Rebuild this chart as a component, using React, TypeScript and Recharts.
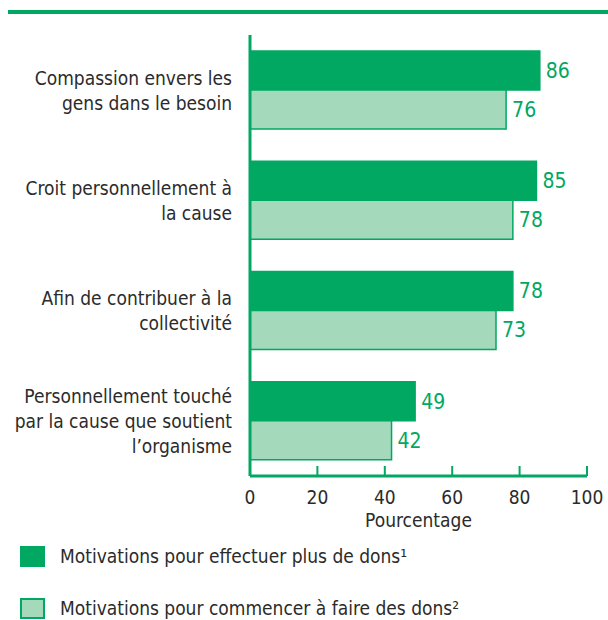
import { BarChart, Bar, XAxis, YAxis, LabelList } from 'recharts';

const categories = [
  'Compassion envers les\ngens dans le besoin',
  'Croit personnellement à\nla cause',
  'Afin de contribuer à la\ncollectivité',
  'Personnellement touché\npar la cause que soutient\nl’organisme',
];
const plusDeDons = [86, 85, 78, 49];
const commencer = [76, 78, 73, 42];
const xTicks = [0, 20, 40, 60, 80, 100];
const seriesNames = [
  'Motivations pour effectuer plus de dons¹',
  'Motivations pour commencer à faire des dons²',
];

const GREEN = '#00a862';
const LIGHT = '#a4d9bb';
const TEXT = '#2b2b2b';
const FONT = '"Liberation Sans Narrow", "DejaVu Sans Condensed", "Roboto", sans-serif';

const data = categories.map((name, i) => ({
  name,
  plus: plusDeDons[i],
  start: commencer[i],
}));

function CategoryTick({ x, y, payload }: any) {
  const lines: string[] = String(payload.value).split('\n');
  const lh = 25;
  const startY = y - ((lines.length - 1) * lh) / 2;
  return (
    <text x={x - 10} y={startY} textAnchor="end" fill={TEXT} fontSize={19} fontFamily={FONT} dominantBaseline="central">
      {lines.map((l, i) => (
        <tspan key={i} x={x - 10} y={startY + i * lh}>
          {l}
        </tspan>
      ))}
    </text>
  );
}

function ValueTick({ x, y, payload }: any) {
  return (
    <g>
      <line x1={x} x2={x} y1={y - 10} y2={y} stroke={GREEN} strokeWidth={2} />
      <text x={x} y={y + 21} textAnchor="middle" fill={TEXT} fontSize={19} fontFamily={FONT} dominantBaseline="central">
        {payload.value}
      </text>
    </g>
  );
}

export default function App() {
  return (
    <div style={{ position: 'absolute', left: 0, top: 0, width: 608, height: 620, background: '#fff', fontFamily: FONT }}>
      <div style={{ position: 'absolute', left: 8, top: 10, width: 600, height: 4, background: GREEN }} />
      <BarChart
        layout="vertical"
        width={608}
        height={620}
        data={data}
        margin={{ top: 35, right: 21, bottom: 0, left: 0 }}
        barGap={0}
        barCategoryGap={16}
      >
        <XAxis
          type="number"
          domain={[0, 100]}
          ticks={xTicks}
          height={144}
          tickSize={0}
          tickMargin={0}
          tickLine={false}
          axisLine={{ stroke: GREEN, strokeWidth: 3 }}
          tick={<ValueTick />}
          interval={0}
          label={{ value: 'Pourcentage', position: 'insideTop', offset: 38, fill: TEXT, fontSize: 19, fontFamily: FONT }}
        />
        <YAxis
          type="category"
          dataKey="name"
          width={250}
          tickLine={false}
          axisLine={{ stroke: GREEN, strokeWidth: 3 }}
          tick={<CategoryTick />}
          interval={0}
        />
        <Bar dataKey="plus" fill={GREEN} stroke={GREEN} strokeWidth={1.5} barSize={39} isAnimationActive={false}>
          <LabelList dataKey="plus" position="right" offset={6} fill={GREEN} fontSize={21} fontFamily={FONT} />
        </Bar>
        <Bar dataKey="start" fill={LIGHT} stroke={GREEN} strokeWidth={1.5} barSize={39} isAnimationActive={false}>
          <LabelList dataKey="start" position="right" offset={6} fill={GREEN} fontSize={21} fontFamily={FONT} />
        </Bar>
      </BarChart>
      <div style={{ position: 'absolute', left: 20, top: 545, display: 'flex', alignItems: 'center' }}>
        <div style={{ width: 25, height: 21, background: GREEN, boxSizing: 'border-box' }} />
        <span style={{ marginLeft: 15, fontSize: 19, color: TEXT }}>{seriesNames[0]}</span>
      </div>
      <div style={{ position: 'absolute', left: 20, top: 597, display: 'flex', alignItems: 'center' }}>
        <div style={{ width: 25, height: 21, background: LIGHT, border: `2px solid ${GREEN}`, boxSizing: 'border-box' }} />
        <span style={{ marginLeft: 15, fontSize: 19, color: TEXT }}>{seriesNames[1]}</span>
      </div>
    </div>
  );
}
